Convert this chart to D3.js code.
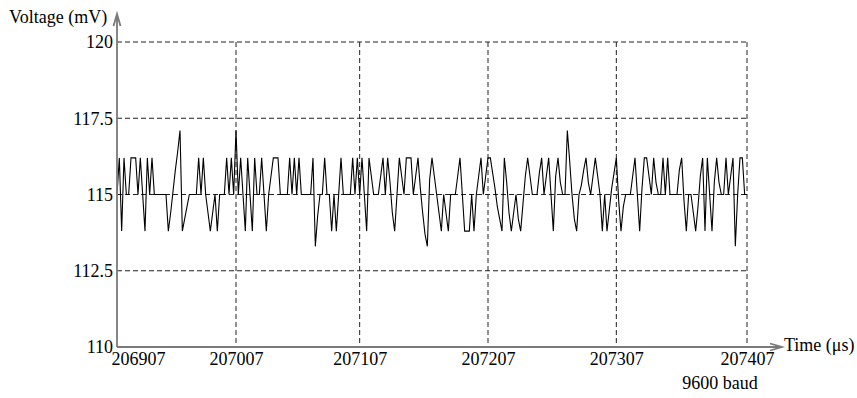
<!DOCTYPE html>
<html>
<head>
<meta charset="utf-8">
<script src="https://cdn.jsdelivr.net/npm/d3@7"></script>
<style>
  body { margin: 0; background: #fff; }
  text { font-family: "Liberation Serif", "DejaVu Serif", serif; font-size: 18px; fill: #000; }
</style>
</head>
<body>
<figure id="scope" style="margin:0"></figure>
<script>
// sampled voltage (mV), one value per sample
const volts = [
  115, 116.2, 113.8, 116.2, 115, 115, 116.2, 116.2, 116.2, 115,
  116.2, 115, 113.8, 116.2, 115, 116.2, 115, 115, 115, 115,
  115, 115, 113.8, 114.4, 115.1, 115.8, 116.4, 117.1, 113.8, 114.2,
  114.6, 115, 115, 115, 115, 116.2, 115, 116.2, 115, 114.4,
  113.8, 114.4, 115, 113.8, 115, 115, 115, 116.2, 115, 116.2,
  115, 117.1, 115, 116.2, 115, 113.8, 116.2, 115, 113.8, 116.2,
  115, 115, 116.2, 115, 113.8, 115, 115.6, 116.2, 116.2, 116.2,
  115, 115, 115, 115, 116.2, 115, 116.2, 115, 116.2, 115,
  115, 115, 115, 115, 116.2, 113.3, 114.3, 115, 115, 116.2,
  115, 115, 113.8, 115, 113.8, 115, 116.2, 115, 115, 115,
  115, 116.2, 115, 116.2, 115, 116.2, 115, 113.8, 116.2, 115.6,
  115, 115, 115, 115.6, 116.2, 115, 116.2, 115.4, 114.4, 113.8,
  115, 116.2, 115.6, 115, 116.2, 116.2, 116.2, 115, 115.6, 116.2,
  115.2, 114.4, 113.7, 113.3, 115.5, 116.2, 115.6, 115, 114.4, 113.8,
  115, 114.4, 113.8, 115, 115, 115, 115.6, 116.2, 115, 113.8,
  113.8, 113.8, 115, 113.8, 115, 115.6, 116.2, 115, 115.6, 116.2,
  116.2, 115.7, 115.2, 114.6, 114.2, 113.8, 116.2, 115.4, 114.4, 113.8,
  114.4, 115, 114.2, 113.8, 114.7, 115.6, 116.2, 115.6, 115, 115,
  115, 115.7, 116.2, 115, 115.6, 116.2, 115, 113.8, 115.6, 116.2,
  115.4, 115, 115, 117.1, 116.1, 115, 114.2, 113.8, 115, 115.3,
  115.8, 116.2, 115.4, 115, 115.6, 116.2, 115.6, 115, 113.8, 115,
  113.8, 114.5, 115.2, 115.7, 116.2, 114.8, 113.8, 114.6, 115, 115,
  115, 115.6, 116.2, 115, 113.8, 115.2, 116.2, 116.2, 115.6, 115,
  116.2, 115.4, 115, 115, 116.2, 115, 116.2, 115, 115, 115,
  115, 115.8, 116.2, 114.8, 113.8, 115, 115, 114.4, 113.8, 114.6,
  115.6, 116.2, 113.8, 116.2, 115, 113.8, 115.4, 116.2, 115.4, 115,
  115, 116.2, 115, 115.6, 116.2, 113.3, 115, 116.2, 116.2, 115,
  115
];

// time labels and the sample each one falls on
const timeLabels = ["206907", "207007", "207107", "207207", "207307", "207407"];
const timeSamples = [0, 51, 104, 159, 214, 270];

const voltTicks = [110, 112.5, 115, 117.5, 120];

const width = 857, height = 398;
const plotLeft = 117, plotRight = 747, plotTop = 42, plotBottom = 347;

const svg = d3.select("figure#scope")
  .append("svg")
  .attr("width", width)
  .attr("height", height);

const x = d3.scaleLinear()
  .domain([0, volts.length - 1])
  .range([plotLeft, plotRight]);

const y = d3.scaleLinear()
  .domain([110, 120])
  .range([plotBottom, plotTop]);

// dashed grid
svg.append("g")
  .selectAll("line")
  .data(voltTicks.filter(v => v > 110))
  .enter()
  .append("line")
  .attr("x1", plotLeft).attr("x2", plotRight)
  .attr("y1", d => y(d)).attr("y2", d => y(d))
  .attr("stroke", "#222").attr("stroke-width", 1)
  .attr("stroke-dasharray", "5,3");

svg.append("g")
  .selectAll("line")
  .data(timeSamples.slice(1))
  .enter()
  .append("line")
  .attr("x1", d => x(d)).attr("x2", d => x(d))
  .attr("y1", plotTop).attr("y2", plotBottom)
  .attr("stroke", "#222").attr("stroke-width", 1)
  .attr("stroke-dasharray", "5,3");

// signal
const line = d3.line()
  .x((d, i) => x(i))
  .y(d => y(d));

svg.append("path")
  .datum(volts)
  .attr("d", line)
  .attr("fill", "none")
  .attr("stroke", "#000")
  .attr("stroke-width", 1.1);

// axes: gray lines with open arrow heads
const axisColor = "#7a7a7a";
const yTip = 14, xTip = 782;

svg.append("path")
  .attr("d", `M${plotLeft},${plotBottom}V${yTip}M${plotLeft - 3.5},${yTip + 12}L${plotLeft},${yTip}L${plotLeft + 3.5},${yTip + 12}`)
  .attr("fill", "none").attr("stroke", axisColor).attr("stroke-width", 1.8);

svg.append("path")
  .attr("d", `M${plotLeft},${plotBottom}H${xTip}M${xTip - 12},${plotBottom - 3.5}L${xTip},${plotBottom}L${xTip - 12},${plotBottom + 3.5}`)
  .attr("fill", "none").attr("stroke", axisColor).attr("stroke-width", 1.8);

// tick labels
const xAxis = d3.axisBottom(x)
  .tickValues(timeSamples)
  .tickFormat((d, i) => timeLabels[i])
  .tickSize(0)
  .tickPadding(0);

const gx = svg.append("g")
  .attr("transform", `translate(0, ${plotBottom})`)
  .call(xAxis)
  .attr("font-size", null)
  .attr("font-family", null);
gx.select(".domain").remove();
gx.selectAll("text")
  .attr("dy", null)
  .attr("y", 18);
// first label sits just right of the y axis instead of centred on it
gx.selectAll("text")
  .filter((d, i) => i === 0)
  .attr("text-anchor", "start")
  .attr("x", -6);

const yAxis = d3.axisLeft(y)
  .tickValues(voltTicks)
  .tickFormat(d => String(d))
  .tickSize(0)
  .tickPadding(4);

const gy = svg.append("g")
  .attr("transform", `translate(${plotLeft}, 0)`)
  .call(yAxis)
  .attr("font-size", null)
  .attr("font-family", null);
gy.select(".domain").remove();
gy.selectAll("text")
  .attr("dy", "0.33em");

// titles
svg.append("text")
  .attr("x", 9).attr("y", 23)
  .text("Voltage (mV)");

svg.append("text")
  .attr("x", xTip + 2).attr("y", plotBottom + 4)
  .text("Time (μs)");

svg.append("text")
  .attr("x", 720).attr("y", 389)
  .attr("text-anchor", "middle")
  .text("9600 baud");
</script>
</body>
</html>
